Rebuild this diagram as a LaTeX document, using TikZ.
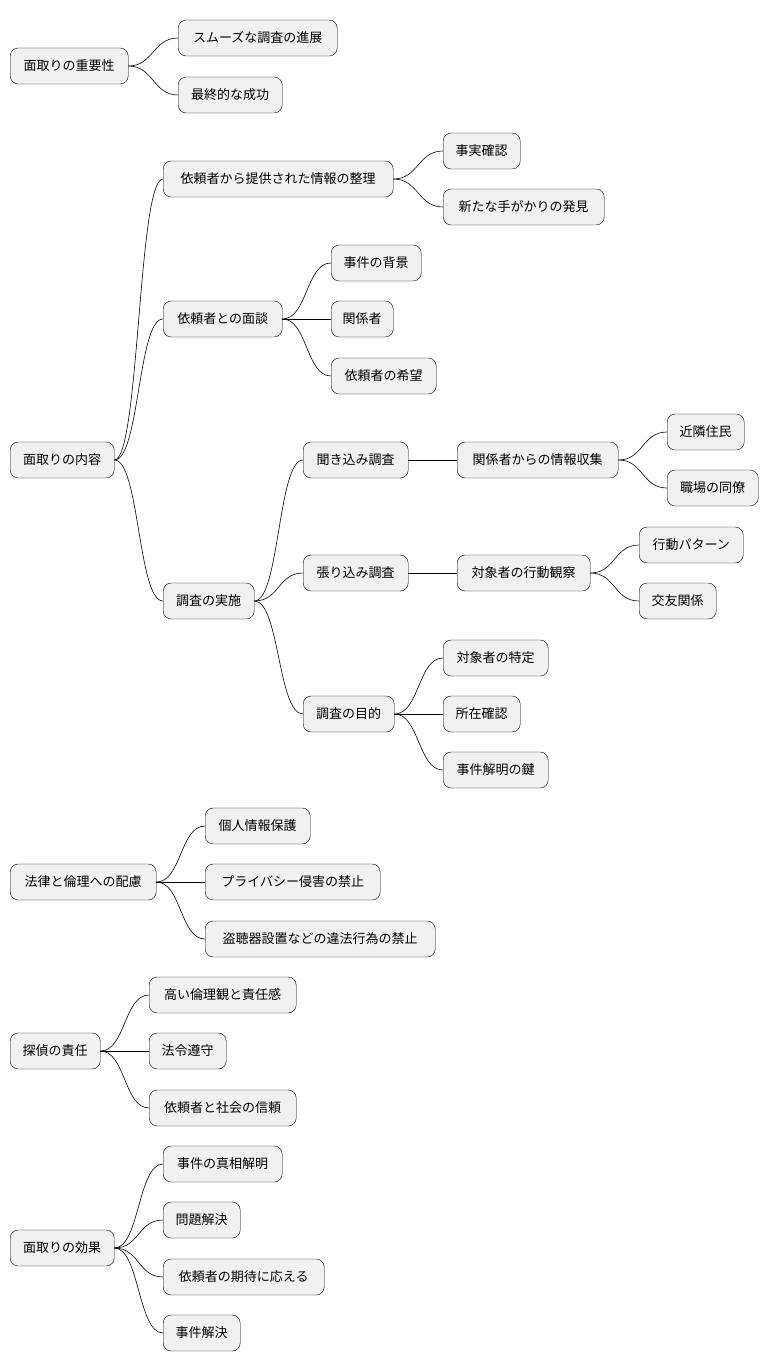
\documentclass[tikz,border=0pt]{standalone}
\usepackage{fontspec}
\setmainfont{Noto Sans CJK JP}
\definecolor{boxfill}{HTML}{F1F1F1}
\tikzset{
  topic/.style={draw=black, fill=boxfill, rounded corners=8pt, minimum height=36pt,
    inner sep=0pt, anchor=west, font=\fontsize{13pt}{15pt}\selectfont},
  branch/.style={draw=black, line width=0.6pt}
}
% node: name, x, y, width, text
\newcommand{\mnode}[5]{\node[topic, minimum width=#4pt] (#1) at (#2pt,-#3pt) {#5};}
\newcommand{\medge}[2]{\draw[branch] (#1.east) .. controls +(25pt,0) and +(-25pt,0) .. (#2.west);}
\begin{document}
\begin{tikzpicture}
\useasboundingbox (0,0) rectangle (768pt,-1372pt);
% importance
\mnode{imp}{10}{66}{118}{面取りの重要性}
\mnode{imp1}{178}{38}{159}{スムーズな調査の進展}
\mnode{imp2}{178}{95}{104}{最終的な成功}
% content
\mnode{cnt}{10}{460}{104}{面取りの内容}
\mnode{info}{163}{179}{230}{依頼者から提供された情報の整理}
\mnode{info1}{443}{151}{77}{事実確認}
\mnode{info2}{443}{207}{161}{新たな手がかりの発見}
\mnode{intv}{163}{319}{119}{依頼者との面談}
\mnode{intv1}{331}{263}{90}{事件の背景}
\mnode{intv2}{331}{319}{62}{関係者}
\mnode{intv3}{331}{376}{105}{依頼者の希望}
\mnode{inv}{163}{601}{91}{調査の実施}
\mnode{ask}{303}{460}{105}{聞き込み調査}
\mnode{ask1}{457}{460}{161}{関係者からの情報収集}
\mnode{ask2}{667}{432}{77}{近隣住民}
\mnode{ask3}{667}{488}{91}{職場の同僚}
\mnode{watch}{303}{573}{105}{張り込み調査}
\mnode{watch1}{457}{573}{133}{対象者の行動観察}
\mnode{watch2}{639}{545}{104}{行動パターン}
\mnode{watch3}{639}{601}{77}{交友関係}
\mnode{goal}{303}{714}{91}{調査の目的}
\mnode{goal1}{443}{658}{105}{対象者の特定}
\mnode{goal2}{443}{714}{77}{所在確認}
\mnode{goal3}{443}{770}{105}{事件解明の鍵}
% law
\mnode{law}{10}{882}{146}{法律と倫理への配慮}
\mnode{law1}{205}{826}{105}{個人情報保護}
\mnode{law2}{205}{882}{175}{プライバシー侵害の禁止}
\mnode{law3}{205}{939}{230}{盗聴器設置などの違法行為の禁止}
% duty
\mnode{duty}{10}{1051}{90}{探偵の責任}
\mnode{duty1}{149}{995}{147}{高い倫理観と責任感}
\mnode{duty2}{149}{1051}{77}{法令遵守}
\mnode{duty3}{149}{1108}{147}{依頼者と社会の信頼}
% effect
\mnode{eff}{10}{1248}{104}{面取りの効果}
\mnode{eff1}{163}{1164}{119}{事件の真相解明}
\mnode{eff2}{163}{1220}{77}{問題解決}
\mnode{eff3}{163}{1277}{161}{依頼者の期待に応える}
\mnode{eff4}{163}{1333}{77}{事件解決}
% connectors
\foreach \p/\c in {imp/imp1,imp/imp2,cnt/info,cnt/intv,cnt/inv,info/info1,info/info2,
  intv/intv1,intv/intv2,intv/intv3,inv/ask,inv/watch,inv/goal,ask/ask1,ask1/ask2,ask1/ask3,
  watch/watch1,watch1/watch2,watch1/watch3,goal/goal1,goal/goal2,goal/goal3,
  law/law1,law/law2,law/law3,duty/duty1,duty/duty2,duty/duty3,
  eff/eff1,eff/eff2,eff/eff3,eff/eff4}
  {\medge{\p}{\c}}
\end{tikzpicture}
\end{document}
